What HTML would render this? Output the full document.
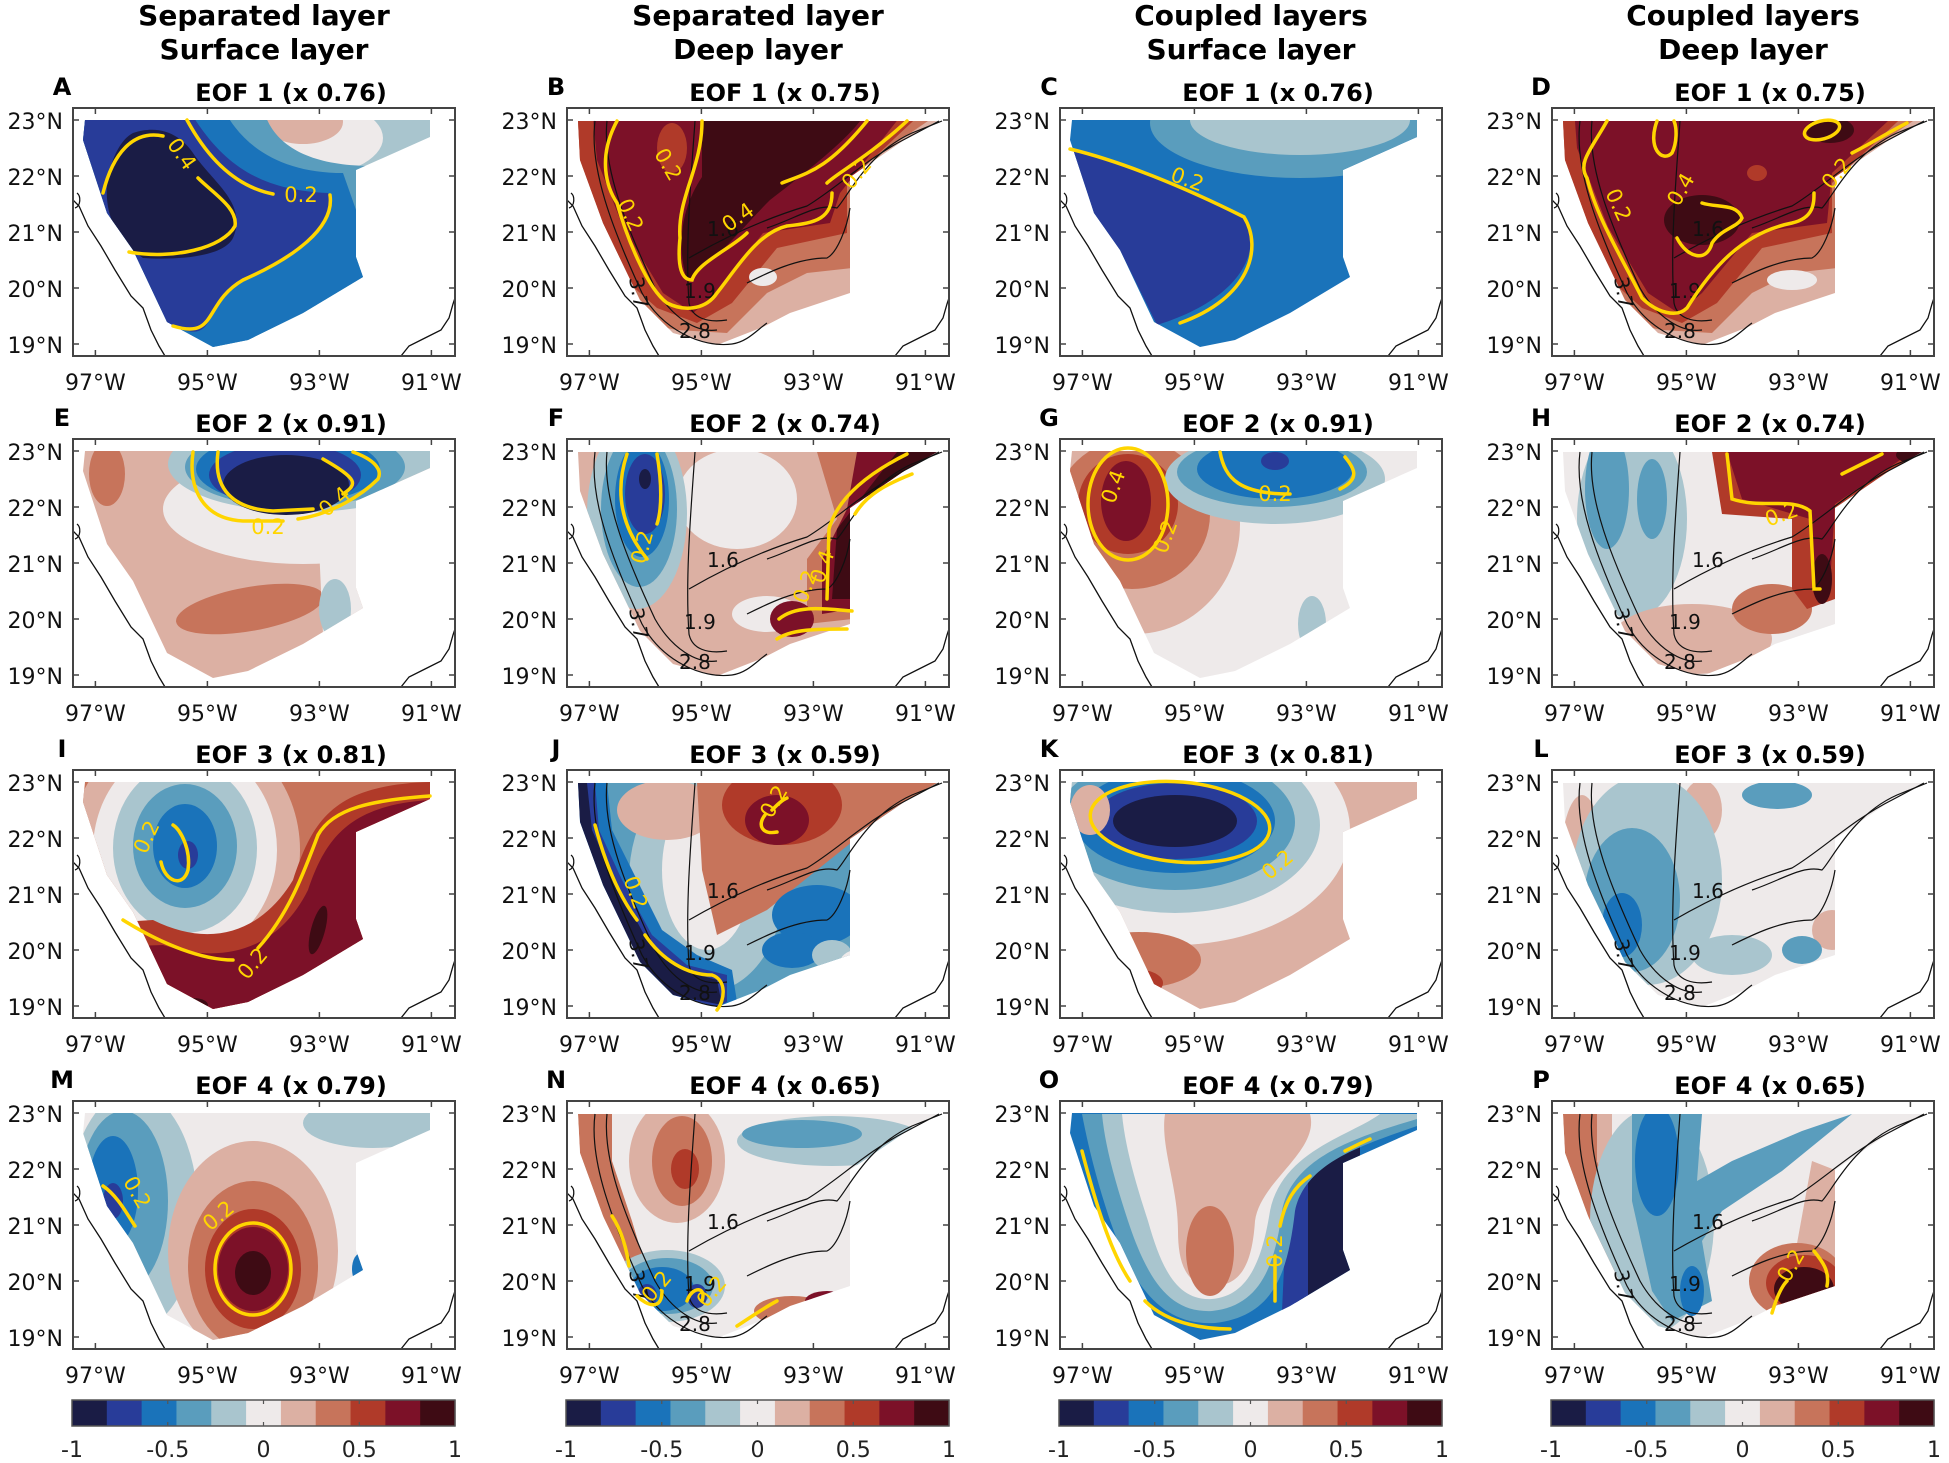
<!DOCTYPE html>
<html><head><meta charset="utf-8">
<style>
html,body{margin:0;padding:0;background:#fff;}
svg{display:block;font-family:"DejaVu Sans","Liberation Sans",sans-serif;}
</style></head>
<body>
<svg id="s" width="1949" height="1463" viewBox="0 0 1949 1463" xmlns="http://www.w3.org/2000/svg">
<defs>
<clipPath id="cs" clipPathUnits="userSpaceOnUse"><path d="M12,12 L357,12 L357,29 L283,62 L283,149 L290,169 L230,205 L175,232 L140,239 L94,214 L60,142 L34,105 L10,32 Z"/></clipPath>
<clipPath id="cd" clipPathUnits="userSpaceOnUse"><path d="M11,13 L370,13 L340,30 L283,69 L283,159 L283,185 L223,205 L196,219 L150,237 L106,225 L73,192 L36,115 L13,52 Z"/></clipPath>
<clipPath id="cb" clipPathUnits="userSpaceOnUse"><rect x="0" y="0" width="382" height="248"/></clipPath>
</defs>
</svg>
<script>
var K=['#1a1c45','#283c99','#1a73ba','#5a9dbd','#a9c5ce','#eeeaea','#dcb0a3','#c7745b','#b03a29','#7c1128','#3e0b14'];
function e(cx,cy,rx,ry,c,r){return '<ellipse cx="'+cx+'" cy="'+cy+'" rx="'+rx+'" ry="'+ry+'" fill="'+K[c]+'"'+(r?' transform="rotate('+r+' '+cx+' '+cy+')"':'')+'/>';}
function p(d,c){return '<path d="'+d+'" fill="'+K[c]+'"/>';}
function y(d){return '<path d="'+d+'" fill="none" stroke="#ffd500" stroke-width="3.5" stroke-linecap="round"/>';}
function ye(cx,cy,rx,ry,r){return '<ellipse cx="'+cx+'" cy="'+cy+'" rx="'+rx+'" ry="'+ry+'" fill="none" stroke="#ffd500" stroke-width="3.5"'+(r?' transform="rotate('+r+' '+cx+' '+cy+')"':'')+'/>';}
function yl(x,yy,t,r){return '<text x="'+x+'" y="'+yy+'" font-size="21" fill="#ffd500" text-anchor="middle" transform="rotate('+(r||0)+' '+x+' '+yy+')">'+t+'</text>';}
var BATH='<g fill="none" stroke="#111" stroke-width="1.2"><path d="M28,13 C22,60 45,120 75,185 C95,222 135,240 165,236 C180,234 190,222 200,215"/><path d="M40,13 C35,60 60,120 88,180 C105,210 130,225 150,222"/><path d="M128,13 C124,70 118,140 122,195 C125,210 140,215 160,212"/><path d="M122,150 C160,128 200,110 240,98 C270,80 300,50 340,30 L372,13"/><path d="M200,120 C230,110 250,95 270,100 C280,90 300,45 345,25 L375,13"/><path d="M180,175 C200,165 230,150 260,150 C270,145 280,120 283,100"/></g><g font-size="20" fill="#111"><text x="140" y="128">1.6</text><text x="117" y="190">1.9</text><text x="112" y="230">2.8</text><text x="62" y="170" transform="rotate(80 62 170)">3.7</text></g>';
var P=[
{d:'s',b:4,L:e(225,30,85,40,5)+e(230,14,40,22,6)+p("M0,0 L190,0 C200,40 240,58 300,58 L300,260 L0,260Z",3)+p("M0,0 L150,0 C170,40 210,65 270,65 L300,150 L300,260 L0,260Z",2)+p("M0,0 L115,0 C150,60 190,82 255,85 C262,120 220,150 170,172 C130,195 145,232 110,222 L0,260Z",1)+p("M60,25 C90,15 110,30 120,45 C140,75 175,95 160,130 C150,150 100,152 70,150 C40,130 30,100 35,70 C40,45 50,30 60,25Z",0),
 Y:y("M90,28 C60,22 40,45 30,85 M56,144 C100,152 150,140 162,118 C165,100 140,85 125,70")+y("M114,12 C140,60 170,80 200,86 M257,87 C262,120 220,150 170,172 C130,195 145,232 100,218")+yl(103,50,"0.4",55)+yl(228,94,"0.2",0)},
{d:'d',b:6,L:p("M0,0 L380,0 L285,65 L285,160 L240,165 L200,185 L160,225 L110,222 L0,200Z",7)+p("M0,0 L360,0 L280,75 L280,125 L210,140 L165,195 L130,215 L90,200 L0,120Z",8)+p("M25,0 L340,0 L273,85 L263,115 L196,125 L150,185 L126,205 L96,185 L56,119 L30,52Z",9)+p("M135,0 L300,0 C296,19 246,59 203,92 C176,119 150,152 120,172 C110,140 113,102 135,69Z",10)+e(196,169,14,9,5)+e(105,40,15,25,8),B:1,
 Y:y("M50,13 C30,50 40,80 50,95 C60,130 80,180 100,195 C120,205 140,200 150,185 C170,160 190,125 220,118 C250,115 265,110 265,85")+y("M340,13 C300,50 270,65 260,75 M135,13 C135,60 110,90 113,130 C110,160 115,172 125,172 C130,155 165,140 180,125 M215,75 C240,65 260,62 300,13")+yl(95,60,"0.2",60)+yl(57,110,"0.2",65)+yl(175,115,"0.4",-35)+yl(295,70,"0.2",-50)},
{d:'s',b:2,L:e(240,15,150,55,3)+e(240,12,110,35,4)+p("M0,30 L10,41 C60,53 122,78 184,109 C203,140 184,190 97,217 L60,142 L0,100Z",1),
 Y:y("M10,41 C60,53 122,78 184,109 C203,140 190,190 120,215")+yl(125,78,"0.2",20)},
{d:'d',b:6,L:p("M0,0 L380,0 L285,65 L285,160 L240,165 L200,185 L160,225 L110,222 L0,200Z",7)+p("M0,0 L360,0 L280,75 L280,125 L210,140 L165,195 L130,215 L90,200 L0,120Z",8)+p("M22,0 L350,0 L280,65 L275,115 L200,125 L150,185 L126,205 L96,185 L56,119 L25,40Z",9)+e(150,112,38,25,10)+e(278,22,24,13,10)+e(205,65,10,8,8)+e(240,172,25,10,5),B:1,
 Y:y("M55,13 C40,40 25,55 35,70 C45,110 70,150 90,190 C105,205 125,210 135,200 C160,160 190,125 240,115 C262,110 262,95 262,85 M300,45 C320,35 335,25 355,15 M105,13 C95,40 110,55 120,45 C125,35 125,20 122,13 M125,130 C135,150 155,155 160,135 C170,120 185,120 190,110 C185,95 165,100 150,95")+ye(270,22,18,9,-15)+yl(60,100,"0.2",65)+yl(135,85,"0.4",-60)+yl(290,70,"0.2",-50)},
{d:'s',b:6,L:e(34,35,18,32,7)+e(177,170,75,22,7,-10)+e(230,70,140,55,5)+p("M245,85 L300,85 L300,205 L250,195Z",5)+e(262,170,16,30,4)+e(230,25,135,48,4)+e(222,28,110,40,3)+e(215,30,92,35,2)+e(212,36,76,32,1)+e(213,46,63,30,0),
 Y:y("M120,13 C115,50 130,80 170,82 L210,82 M225,80 C260,75 290,55 305,40 C310,30 300,20 280,13")+y("M145,13 C140,50 160,70 200,72 L240,70 M270,55 C285,45 285,40 250,20")+yl(195,95,"0.2",0)+yl(266,68,"0.4",-40)},
{d:'d',b:6,L:e(170,60,60,50,5)+e(200,175,35,18,5)+e(70,75,50,95,4)+e(72,70,38,78,3)+e(75,60,27,58,2)+e(78,55,20,40,1)+e(78,40,6,10,0)+p("M250,13 L370,13 L330,40 L290,70 L285,180 L240,185 L240,120 L270,80Z",7)+p("M290,13 L370,13 L300,60 L285,170 L255,175 L255,120 L280,70Z",9)+p("M330,13 L370,13 L300,60 L283,160 L265,160 L270,90Z",10)+e(225,180,22,18,9),B:1,
 Y:y("M60,15 C45,60 60,95 80,120 M90,15 C95,45 95,70 90,85")+y("M340,15 C300,35 270,60 262,90 L260,160 M345,35 C320,45 300,55 288,75 M212,180 C230,165 260,170 285,172 M210,200 C225,190 250,190 280,190")+yl(82,110,"0.2",-75)+yl(245,150,"0.2",-70)+yl(262,130,"0.4",-70)},
{d:'s',b:5,L:e(75,85,105,110,6)+e(72,75,78,75,7)+e(68,65,50,50,8)+e(66,62,25,40,9)+e(215,40,110,45,4)+e(212,33,95,35,3)+e(215,30,78,30,2)+e(215,22,14,9,1)+e(252,185,14,28,4),
 Y:ye(68,65,40,56)+y("M160,13 C165,40 180,55 230,55 M285,18 C295,30 300,40 280,50")+yl(60,50,"0.4",-70)+yl(112,100,"0.2",-70)+yl(215,62,"0.2",0)},
{d:'d',b:5,L:e(80,80,55,100,4)+e(55,50,22,60,3)+e(100,60,15,40,3)+e(140,200,80,35,6)+e(220,170,40,25,7)+p("M160,13 L370,13 L283,69 L283,160 L255,170 L240,150 L240,80 L170,75Z",8)+p("M175,13 L360,13 L283,65 L278,145 L262,150 L258,80 L190,60Z",9)+e(360,16,16,8,10)+e(270,140,10,25,10),B:1,
 Y:y("M175,15 L180,60 C210,70 240,58 258,72 L262,150 L268,150 M330,15 C310,25 300,30 290,35")+yl(232,82,"0.2",-20)},
{d:'s',b:7,L:e(112,80,115,125,6)+e(112,80,92,105,5)+e(112,78,72,85,4)+e(112,76,52,62,3)+e(112,76,32,42,2)+e(115,85,10,14,1)+p("M0,155 L80,150 C140,180 190,160 220,110 C240,50 260,15 357,12 L400,12 L400,260 L0,260Z",8)+p("M0,178 L90,175 C150,195 205,180 235,120 C252,70 275,35 357,30 L400,30 L400,260 L0,260Z",9)+e(120,235,15,7,10)+e(245,160,7,25,10,15),
 Y:y("M88,92 C92,112 110,118 115,100 C118,80 108,60 100,55")+y("M50,150 C90,175 130,190 160,190 M185,178 C215,145 230,105 245,65 C260,38 300,30 357,26")+yl(80,70,"0.2",-65)+yl(185,198,"0.2",-50)},
{d:'d',b:3,L:e(140,110,78,112,4)+e(140,100,45,80,5)+e(100,40,50,30,6)+p("M130,13 L370,13 L300,60 L250,100 L200,140 L150,165 L135,100Z",7)+e(215,35,60,40,8)+e(210,50,32,25,9)+e(250,145,45,30,2)+e(225,180,30,18,2)+e(265,185,20,15,4)+e(290,195,18,15,5)+p("M11,13 L40,13 L45,60 L70,110 L95,160 L130,185 L165,200 L170,232 L150,237 L106,225 L73,192 L36,115 L13,52Z",2)+p("M11,13 L28,13 L32,60 L55,110 L85,165 L120,195 L160,205 L160,232 L150,237 L106,225 L73,192 L36,115 L13,52Z",1)+p("M11,13 L20,13 L25,60 L50,115 L80,170 L115,200 L150,210 L155,235 L106,225 L73,192 L36,115 L13,52Z",0),B:1,
 Y:y("M28,55 C40,100 55,130 70,150 M78,165 C95,190 120,205 145,205 C160,210 158,230 150,240")+y("M198,45 C190,55 195,65 210,62 M205,40 C210,35 215,30 220,28")+yl(62,125,"0.2",70)+yl(213,35,"0.2",-60)},
{d:'s',b:6,L:e(115,60,175,115,5)+e(115,55,145,88,4)+e(115,52,120,68,3)+e(115,51,100,52,2)+e(115,51,82,38,1)+e(115,51,62,26,0)+e(79,190,62,28,7)+e(75,213,28,14,8)+e(30,40,20,25,6),
 Y:ye(120,52,90,40,5)+yl(222,100,"0.2",-40)},
{d:'d',b:5,L:e(30,100,22,75,6)+e(150,40,20,30,6)+e(95,110,75,105,4)+e(80,130,48,72,3)+e(70,155,20,32,2)+e(225,25,35,14,3)+e(280,160,20,20,6)+e(250,180,20,14,3)+e(180,185,40,20,4),B:1,Y:''},
{d:'s',b:5,L:e(300,22,70,25,4)+e(60,110,65,120,4)+e(50,100,45,90,3)+e(40,90,25,55,2)+e(40,100,10,18,1)+e(180,150,85,110,6)+e(180,165,65,85,7)+e(180,168,48,60,8)+e(180,168,35,42,9)+e(180,172,18,22,10)+e(288,168,9,16,2),
 Y:ye(180,168,38,46)+y("M30,85 C45,95 55,115 62,125")+yl(150,120,"0.2",-40)+yl(58,95,"0.2",60)},
{d:'d',b:5,L:p("M11,13 L45,13 L45,60 L65,120 L80,170 L60,185 L36,115 L13,52Z",7)+e(110,60,48,62,6)+e(115,60,30,45,7)+e(118,68,14,20,8)+e(265,40,95,25,4)+e(235,33,60,14,3)+e(100,185,58,36,4)+e(100,185,46,28,3)+e(95,188,32,22,2)+e(80,195,10,12,1)+e(130,195,10,12,1)+e(225,210,38,15,7)+e(260,200,22,10,9),B:1,
 Y:y("M70,195 C80,205 95,210 95,190 M120,200 C125,185 140,185 135,200 M170,225 C185,215 200,205 210,200 M45,115 C55,130 60,150 62,165")+yl(95,190,"0.2",-50)+yl(150,195,"0.2",-50)},
{d:'s',b:2,L:p("M240,70 L300,40 L300,215 L235,210Z",0)+p("M228,80 L248,70 L248,210 L222,210Z",1)+p("M22,13 L357,13 L357,25 C300,45 245,62 235,110 C228,170 215,215 155,222 C105,225 75,190 52,125 C38,85 28,45 22,13Z",3)+p("M42,13 L357,13 L357,18 C300,35 232,55 222,110 C215,165 200,205 152,210 C110,212 88,180 68,120 C55,80 45,45 42,13Z",4)+p("M62,13 L320,13 C290,35 222,50 210,110 C202,160 188,195 152,198 C118,200 102,170 88,120 C75,80 65,45 62,13Z",5)+p("M105,13 L250,13 C260,50 200,80 195,120 C192,165 180,185 152,185 C125,185 118,160 118,130 C118,85 100,45 105,13Z",6)+e(150,150,24,45,7),
 Y:y("M22,50 C35,100 50,150 70,180 M85,200 C110,225 150,228 170,228 M220,125 C225,100 235,85 250,75 M285,50 C295,45 305,40 310,38 M215,155 L215,200")+yl(222,150,"0.2",-90)},
{d:'d',b:5,L:p("M11,13 L45,13 L45,60 L68,120 L85,170 L65,185 L36,115 L13,52Z",7)+p("M45,13 L60,13 L60,60 L80,120 L90,170 L80,180 L68,120 L45,60Z",6)+e(100,120,62,112,4)+p("M80,13 L150,13 L145,80 L180,60 L250,30 L300,13 L230,70 L170,110 L150,140 L160,200 L120,220 L100,190 L80,100Z",3)+e(105,60,22,55,2)+e(140,190,12,25,2)+p("M260,60 L283,69 L283,185 L240,170Z",6)+e(245,180,48,38,7)+e(252,182,38,28,8)+e(252,188,30,22,10),B:1,
 Y:y("M220,212 C225,195 230,185 235,180 M262,150 C270,160 278,170 275,185")+yl(245,168,"0.2",-60)}
];
var labels='ABCDEFGHIJKLMNOP';
var titles=[['EOF 1 (x 0.76)','EOF 1 (x 0.75)','EOF 1 (x 0.76)','EOF 1 (x 0.75)'],['EOF 2 (x 0.91)','EOF 2 (x 0.74)','EOF 2 (x 0.91)','EOF 2 (x 0.74)'],['EOF 3 (x 0.81)','EOF 3 (x 0.59)','EOF 3 (x 0.81)','EOF 3 (x 0.59)'],['EOF 4 (x 0.79)','EOF 4 (x 0.65)','EOF 4 (x 0.79)','EOF 4 (x 0.65)']];
var X0=[73,567,1060,1552],Y0=[108,439,770,1101];
var heads=[['Separated layer','Surface layer'],['Separated layer','Deep layer'],['Coupled layers','Surface layer'],['Coupled layers','Deep layer']];
var out='';
for(var c=0;c<4;c++){
 var cx=X0[c]+191;
 out+='<text x="'+cx+'" y="25" font-size="28" font-weight="bold" text-anchor="middle">'+heads[c][0]+'</text>';
 out+='<text x="'+cx+'" y="59" font-size="28" font-weight="bold" text-anchor="middle">'+heads[c][1]+'</text>';
}
var COAST='<g fill="none" stroke="#111" stroke-width="1.3"><path d="M0,92 L6,98 L15,118 L28,138 L42,162 L58,188 L70,200 L78,222 L86,238 L92,248"/><path d="M4,85 C8,88 8,98 2,100"/><path d="M328,248 L336,238 L352,230 L368,222 L376,210 L380,196 L382,190"/></g>';
for(var r=0;r<4;r++)for(var c=0;c<4;c++){
 var k=r*4+c,s=P[k],x0=X0[c],y0=Y0[r];
 out+='<g transform="translate('+x0+','+y0+')">';
 out+='<g clip-path="url(#c'+s.d+')"><rect x="0" y="0" width="382" height="248" fill="'+K[s.b]+'"/>'+s.L+'</g>';
 out+='<g clip-path="url(#cb)">'+COAST+(s.B?BATH:'')+s.Y+'</g>';
 out+='<rect x="0" y="0" width="382" height="248" fill="none" stroke="#444" stroke-width="2"/>';
 var t='';
 [22.4,134.4,246.4,358.4].forEach(function(v){t+='M'+v+',0 v6 M'+v+',248 v-6 ';});
 [12,68,124,180,236].forEach(function(v){t+='M0,'+v+' h6 M382,'+v+' h-6 ';});
 out+='<path d="'+t+'" stroke="#444" stroke-width="1.5"/>';
 var la=['23°N','22°N','21°N','20°N','19°N'];
 for(var i=0;i<5;i++)out+='<text x="-10" y="'+(12+56*i+9)+'" font-size="22" text-anchor="end" fill="#111">'+la[i]+'</text>';
 var lo=['97°W','95°W','93°W','91°W'];
 for(var i=0;i<4;i++)out+='<text x="'+(22.4+112*i)+'" y="282" font-size="22" text-anchor="middle" fill="#111">'+lo[i]+'</text>';
 out+='<text x="-11" y="-13" font-size="24" font-weight="bold" fill="#000" text-anchor="middle">'+labels[k]+'</text>';
 out+='<text x="218" y="-7" font-size="24" font-weight="bold" fill="#000" text-anchor="middle">'+titles[r][c]+'</text>';
 out+='</g>';
}
for(var c=0;c<4;c++){
 var x0=X0[c]-1,w=383,h=26,yb=1400;
 out+='<g transform="translate('+x0+','+yb+')">';
 for(var i=0;i<11;i++)out+='<rect x="'+(i*w/11)+'" y="0" width="'+(w/11+0.6)+'" height="'+h+'" fill="'+K[i]+'"/>';
 out+='<rect x="0" y="0" width="'+w+'" height="'+h+'" fill="none" stroke="#555" stroke-width="1.5"/>';
 var tk='';[0.25,0.5,0.75].forEach(function(f){tk+='M'+(f*w)+',0 v4 M'+(f*w)+','+h+' v-4 ';});
 out+='<path d="'+tk+'" stroke="#555" stroke-width="1.2"/>';
 var cl=['-1','-0.5','0','0.5','1'];
 for(var i=0;i<5;i++)out+='<text x="'+(i*w/4)+'" y="57" font-size="22" text-anchor="middle" fill="#222">'+cl[i]+'</text>';
 out+='</g>';
}
document.getElementById('s').insertAdjacentHTML('beforeend',out);
</script>
</body></html>
